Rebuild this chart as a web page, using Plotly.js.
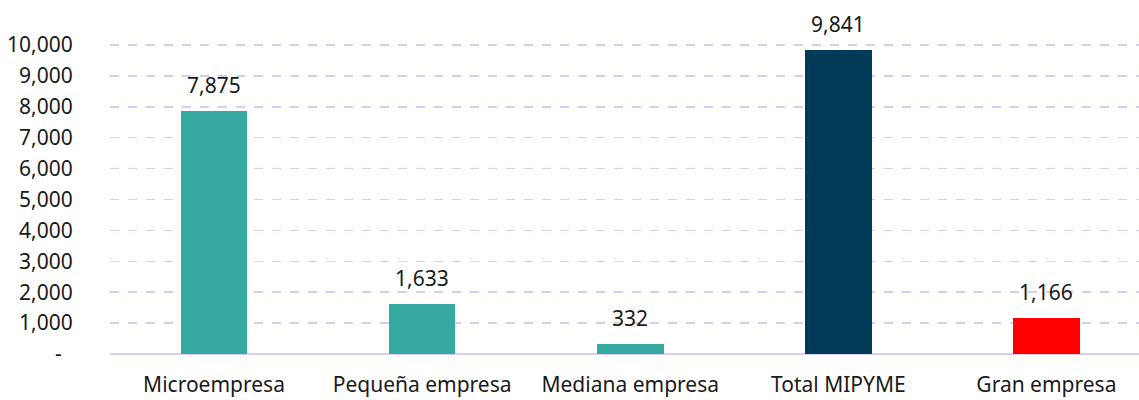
<!DOCTYPE html>
<html><head><meta charset="utf-8">
<script src="https://cdn.plot.ly/plotly-3.0.1.min.js"></script>
<style>html,body{margin:0;padding:0;overflow:hidden;background:#fff}</style>
</head><body>
<div id="chart" style="width:1139px;height:400px"></div>
<script>
const categories = ["Microempresa", "Pequeña empresa", "Mediana empresa", "Total MIPYME", "Gran empresa"];
const values = [7875, 1633, 332, 9841, 1166];
const barColors = ["#36AAA0", "#36AAA0", "#36AAA0", "#023B58", "#FF0000"];
const yTickVals = [0, 1000, 2000, 3000, 4000, 5000, 6000, 7000, 8000, 9000, 10000];
const yTickText = ["-\u00a0\u00a0", "1,000", "2,000", "3,000", "4,000", "5,000", "6,000", "7,000", "8,000", "9,000", "10,000"];

const fmt = v => v.toLocaleString("en-US");
const FONT = "'Noto Sans', 'Open Sans', sans-serif";
const FS = 21;

const trace = {
  type: "bar",
  x: categories,
  y: values,
  width: 0.32,
  marker: {color: barColors, line: {width: 0}},
  hoverinfo: "none"
};

const annotations = categories.map((c, i) => ({
  x: c, y: values[i], text: fmt(values[i]),
  xref: "x", yref: "y", showarrow: false,
  yanchor: "bottom", yshift: 10,
  font: {family: FONT, size: FS, color: "#1a1a1a"}
}));

const layout = {
  width: 1139, height: 400,
  margin: {l: 110, r: 0, t: 0, b: 46},
  paper_bgcolor: "#fff", plot_bgcolor: "#fff",
  showlegend: false,
  bargap: 0,
  xaxis: {
    range: [-0.5, 4.445],
    showgrid: false, zeroline: false, showline: false,
    ticks: "outside", ticklen: 12, tickcolor: "rgba(0,0,0,0)",
    tickfont: {family: FONT, size: FS, color: "#1a1a1a"},
    fixedrange: true
  },
  yaxis: {
    range: [0, 11456],
    tickvals: yTickVals, ticktext: yTickText,
    showgrid: true, gridcolor: "#D4CEF2", griddash: "dash", gridwidth: 1.5,
    zeroline: true, zerolinecolor: "#D4CEF2", zerolinewidth: 2,
    ticks: "outside", ticklen: 32, tickcolor: "rgba(0,0,0,0)",
    tickfont: {family: FONT, size: FS, color: "#1a1a1a"},
    fixedrange: true
  },
  annotations: annotations
};

Plotly.newPlot("chart", [trace], layout, {displayModeBar: false, staticPlot: true});
</script>
</body></html>
